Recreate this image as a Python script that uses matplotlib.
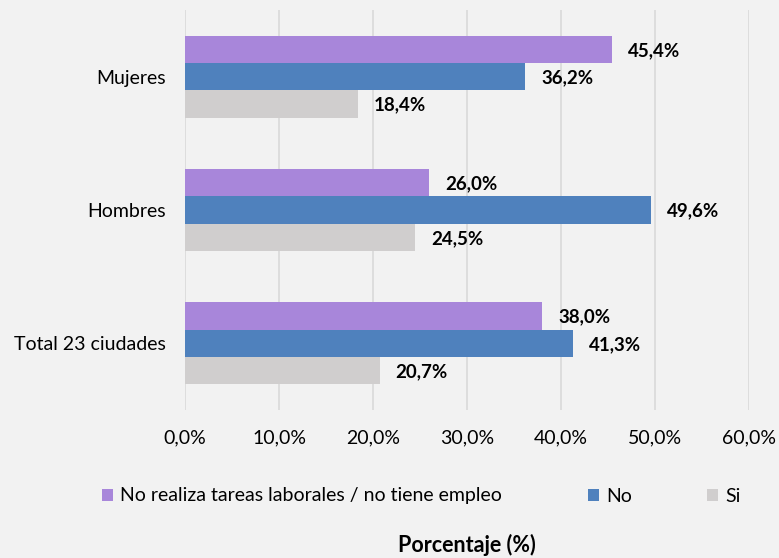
import matplotlib
matplotlib.use("Agg")
import matplotlib.pyplot as plt
from matplotlib.patches import Patch
import numpy as np

categories = ["Total 23 ciudades", "Hombres", "Mujeres"]
series_names = ["No realiza tareas laborales / no tiene empleo", "No", "Si"]
no_realiza = [38.0, 26.0, 45.4]
no_vals = [41.3, 49.6, 36.2]
si_vals = [20.7, 24.5, 18.4]
xticks = [0, 10, 20, 30, 40, 50, 60]
colors = ["#a886da", "#4f81bd", "#d0cece"]

plt.rcParams['font.family'] = ['Lato', 'DejaVu Sans']
bg = "#f2f2f2"
fig = plt.figure(figsize=(7.79, 5.58), dpi=100, facecolor=bg)
ax = fig.add_axes([185/779, 1-410/558, (749-185)/779, 400/558])
ax.set_facecolor(bg)

y = np.arange(len(categories))
h = 0.205
data = [no_realiza, no_vals, si_vals]
offsets = [h, 0, -h]
for vals, off, c in zip(data, offsets, colors):
    ax.barh(y + off, vals, height=h, color=c, zorder=3)
    for yy, v in zip(y + off, vals):
        ax.annotate(f"{v:.1f}%".replace(".", ","), xy=(v, yy), xytext=(16, -1),
                    textcoords="offset pixels",
                    va="center", ha="left", fontsize=13.5, fontweight="bold", color="#000000")

ax.set_xlim(0, 60)
ax.set_ylim(-0.5, 2.5)
ax.set_xticks(xticks)
ax.set_xticklabels([f"{t:.1f}%".replace(".", ",") for t in xticks], fontsize=14)
ax.set_yticks(y)
ax.set_yticklabels(categories, fontsize=14)
ax.tick_params(axis='both', length=0)
ax.tick_params(axis='x', pad=14)
ax.tick_params(axis='y', pad=14)
ax.grid(axis='x', color="#d9d9d9", linewidth=1.2, zorder=0)
for s in ax.spines.values():
    s.set_visible(False)

positions = [102/779, 588/779, 707/779]
for name, c, px in zip(series_names, colors, positions):
    fig.legend(handles=[Patch(facecolor=c, edgecolor='none', label=name)],
               loc='center left', bbox_to_anchor=(px, 1-496/558), frameon=False,
               fontsize=14, handlelength=0.57, handleheight=0.57, handletextpad=0.36,
               borderaxespad=0, borderpad=0)

fig.text(467/779, 1-545/558, "Porcentaje (%)", ha='center', va='center',
         fontsize=15.5, fontweight='bold')

fig.savefig("out.png", dpi=100, facecolor=bg)
